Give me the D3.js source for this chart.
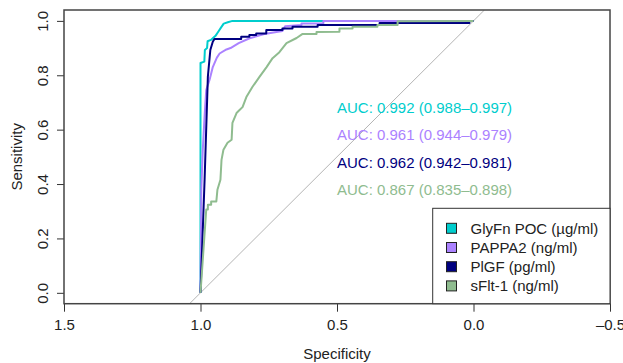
<!DOCTYPE html>
<html>
<head>
<meta charset="utf-8">
<script src="https://cdn.jsdelivr.net/npm/d3@7"></script>
<style>
  body { margin: 0; background: #fff; }
  svg { font-family: "Liberation Sans", Arial, sans-serif; }
</style>
</head>
<body>
<div id="chart"></div>
<script>
// ROC curves, [specificity, sensitivity]
const glyfnRoc = [[1,0],[1,0.845],[0.986,0.85],[0.984,0.893],[0.976,0.9],[0.974,0.925],[0.962,0.93],
  [0.945,0.945],[0.935,0.96],[0.925,0.975],[0.915,0.99],[0.9,0.995],[0.883,1],[0,1]];
const pappaRoc = [[1,0],[0.997,0.38],[0.992,0.518],[0.985,0.65],[0.979,0.746],[0.967,0.783],[0.96,0.81],
  [0.955,0.83],[0.94,0.865],[0.93,0.88],[0.905,0.895],[0.89,0.9],[0.86,0.918],[0.82,0.936],
  [0.76,0.953],[0.70,0.963],[0.69,0.98],[0.63,0.985],[0.63,0.99],[0.55,0.99],[0.55,1],[0,1]];
const plgfRoc = [[1,0],[0.985,0.416],[0.973,0.795],[0.964,0.893],[0.955,0.923],[0.949,0.933],
  [0.851,0.933],[0.851,0.942],[0.821,0.942],[0.821,0.948],[0.796,0.948],[0.796,0.954],
  [0.759,0.954],[0.759,0.966],[0.70,0.966],[0.70,0.972],[0.663,0.972],[0.663,0.978],
  [0.571,0.978],[0.571,0.985],[0.344,0.985],[0.344,0.992],[0.015,0.992],[0.015,1],[0,1]];
const sfltRoc = [[1,0],[0.979,0.306],[0.973,0.306],[0.973,0.324],[0.961,0.324],[0.961,0.336],
  [0.942,0.336],[0.938,0.379],[0.927,0.416],[0.923,0.489],[0.916,0.526],[0.901,0.552],
  [0.886,0.563],[0.883,0.625],[0.868,0.661],[0.857,0.672],[0.846,0.683],[0.832,0.72],
  [0.81,0.757],[0.784,0.794],[0.758,0.83],[0.736,0.863],[0.711,0.885],[0.685,0.918],
  [0.648,0.937],[0.626,0.952],[0.575,0.952],[0.575,0.959],[0.491,0.96],[0.491,0.972],
  [0.443,0.972],[0.443,0.978],[0.352,0.978],[0.352,0.985],[0.278,0.985],[0.278,0.999],[0,1]];

const seriesNames = ["GlyFn POC (\u00b5g/ml)", "PAPPA2 (ng/ml)", "PlGF (pg/ml)", "sFlt-1 (ng/ml)"];
const seriesColors = ["#00CDCD", "#AB82FF", "#000080", "#8FBC8F"];
const aucLabels = ["AUC: 0.992 (0.988\u20130.997)", "AUC: 0.961 (0.944\u20130.979)",
  "AUC: 0.962 (0.942\u20130.981)", "AUC: 0.867 (0.835\u20130.898)"];
const aucY = [0.68, 0.58, 0.48, 0.38];
const xTicks = [1.5, 1, 0.5, 0, -0.5];
const yTicks = [0, 0.2, 0.4, 0.6, 0.8, 1];

const width = 623, height = 363;
const margin = {top: 10, right: 13, bottom: 59.3, left: 64};

const svg = d3.select("#chart").append("svg")
  .attr("width", width).attr("height", height);

// Set the ranges (reversed specificity axis, like pROC)
const x = d3.scaleLinear().domain([1.5, -0.5]).range([margin.left, width - margin.right]);
const y = d3.scaleLinear().domain([-0.04, 1.04]).range([height - margin.bottom, margin.top]);

svg.append("clipPath").attr("id", "plot")
  .append("rect")
  .attr("x", x(1.5)).attr("y", y(1.04))
  .attr("width", x(-0.5) - x(1.5)).attr("height", y(-0.04) - y(1.04));

// chance diagonal
svg.append("line")
  .attr("clip-path", "url(#plot)")
  .attr("x1", x(1.04)).attr("y1", y(-0.04))
  .attr("x2", x(-0.04)).attr("y2", y(1.04))
  .style("stroke", "#b4b4b4").style("stroke-width", 1);

const rocLine = d3.line()
  .x(d => x(d[0]))
  .y(d => y(d[1]));

[glyfnRoc, pappaRoc, plgfRoc, sfltRoc].forEach((roc, i) => {
  svg.append("path")
    .attr("d", rocLine(roc))
    .style("fill", "none")
    .style("stroke", seriesColors[i])
    .style("stroke-width", 2)
    .style("stroke-linejoin", "round");
});

// AUC labels
svg.selectAll(".auc").data(aucLabels).enter().append("text")
  .attr("class", "auc")
  .attr("x", x(0.5))
  .attr("y", (d, i) => y(aucY[i]))
  .attr("dy", "0.35em")
  .style("font-size", "15px")
  .style("fill", (d, i) => seriesColors[i])
  .text(d => d);

// Axes
const xAxis = svg.append("g")
  .attr("transform", `translate(0,${y(-0.04)})`)
  .call(d3.axisBottom(x).tickValues(xTicks).tickSize(8).tickPadding(8)
    .tickFormat(d => d < 0 ? "\u2013" + d3.format(".1f")(-d) : d3.format(".1f")(d)));
xAxis.select(".domain").remove();
xAxis.selectAll("line").style("stroke", "#333");
xAxis.selectAll("text").style("font-size", "15px").style("fill", "#222");

const yAxis = svg.append("g")
  .attr("transform", `translate(${x(1.5)},0)`)
  .call(d3.axisLeft(y).tickValues(yTicks).tickSize(7).tickFormat(d3.format(".1f")));
yAxis.select(".domain").remove();
yAxis.selectAll("line").style("stroke", "#333");
yAxis.selectAll("text")
  .attr("x", null).attr("dy", null)
  .attr("text-anchor", "middle")
  .attr("dominant-baseline", "central")
  .attr("transform", d => `translate(-22,0) rotate(-90)`)
  .style("font-size", "15px").style("fill", "#222");

// plot box
svg.append("rect")
  .attr("x", x(1.5)).attr("y", y(1.04))
  .attr("width", x(-0.5) - x(1.5)).attr("height", y(-0.04) - y(1.04))
  .style("fill", "none").style("stroke", "#444").style("stroke-width", 1.5);

// axis titles
svg.append("text")
  .attr("x", (x(1.5) + x(-0.5)) / 2).attr("y", 353)
  .attr("text-anchor", "middle").attr("dominant-baseline", "central")
  .style("font-size", "15px").style("fill", "#222")
  .text("Specificity");
svg.append("text")
  .attr("transform", `translate(16,${(y(1.04) + y(-0.04)) / 2}) rotate(-90)`)
  .attr("text-anchor", "middle").attr("dominant-baseline", "central")
  .style("font-size", "15px").style("fill", "#222")
  .text("Sensitivity");

// Legend
const lg = svg.append("g");
lg.append("rect")
  .attr("x", 432.7).attr("y", 208.3)
  .attr("width", x(-0.5) - 432.7).attr("height", y(-0.04) - 208.3)
  .style("fill", "#fff").style("stroke", "#333").style("stroke-width", 1);
const rows = lg.selectAll(".item").data(seriesNames).enter().append("g")
  .attr("transform", (d, i) => `translate(451.5,${228.3 + i * 19.2})`);
rows.append("rect")
  .attr("x", -5).attr("y", -5).attr("width", 10).attr("height", 10)
  .style("fill", (d, i) => seriesColors[i]).style("stroke", "#222").style("stroke-width", 1);
rows.append("text")
  .attr("x", 19).attr("dy", "0.35em")
  .style("font-size", "15px").style("fill", "#222")
  .text(d => d);
</script>
</body>
</html>
